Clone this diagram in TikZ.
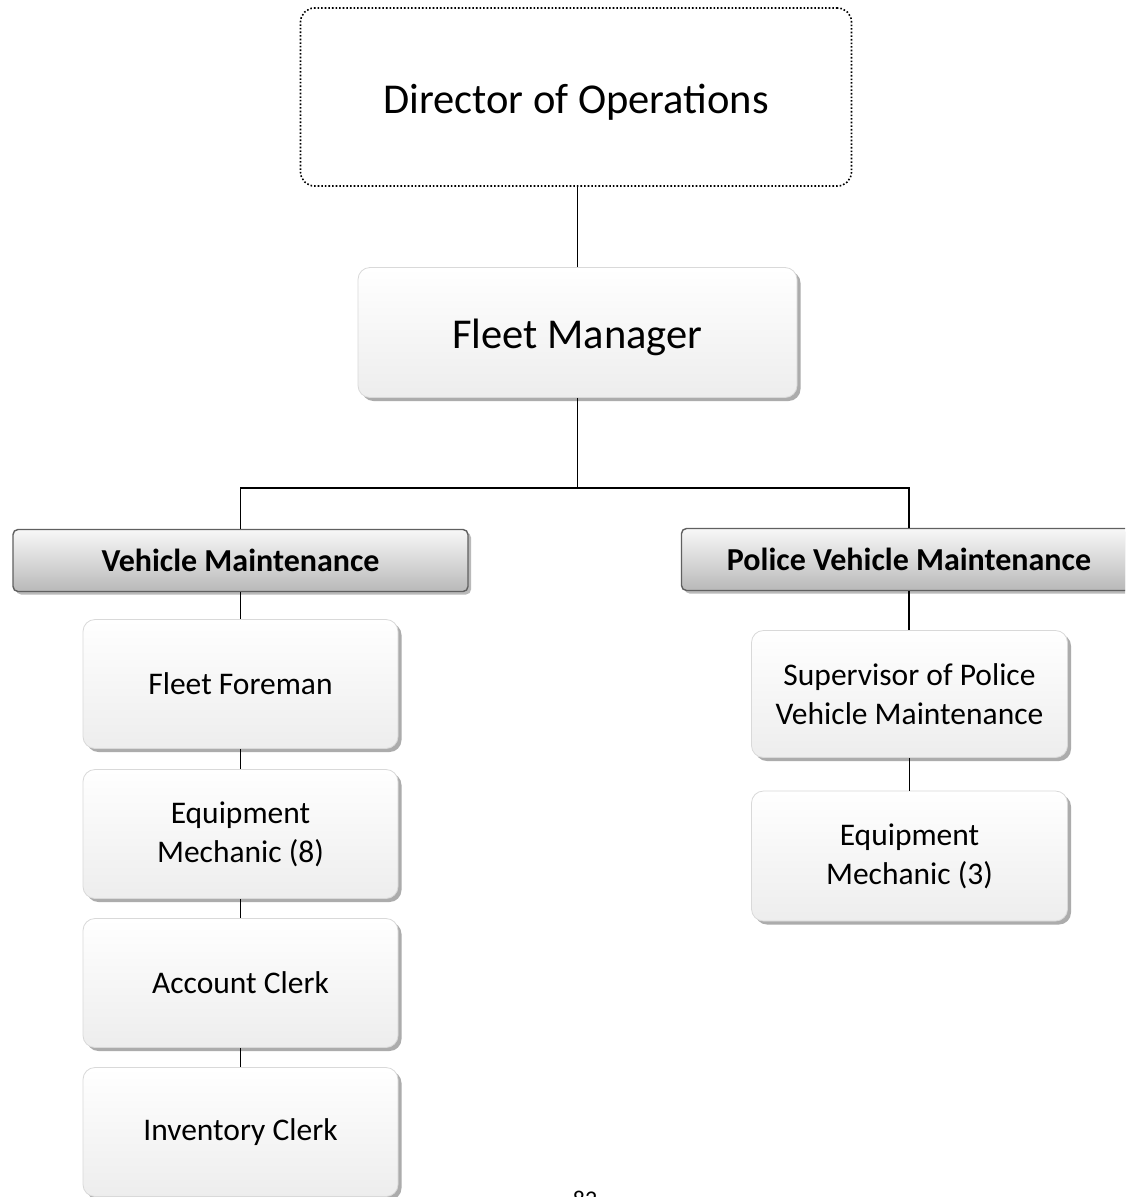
\documentclass[tikz,border=0pt]{standalone}
\usepackage{fontspec}
\setmainfont{Carlito}
\usetikzlibrary{shadows}

\newcommand{\fsz}[2]{\fontsize{#1}{#2}\selectfont}
% lower a label without changing the box size used for centring
\newcommand{\lowered}[2]{\raisebox{-#1}[\height][\depth]{#2}}

\tikzset{
  link/.style={draw=black, line width=1.3pt},
  topbox/.style={draw=black, dotted, line width=1.6pt, rounded corners=14pt,
    minimum width=551pt, minimum height=178pt, inner sep=0pt},
  card/.style={draw=gray!30, line width=0.8pt, rounded corners=12pt,
    top color=white, bottom color=gray!14, inner sep=0pt, align=center,
    drop shadow={shadow xshift=3.5pt, shadow yshift=-3.5pt, fill=gray!65, opacity=1}},
  mgrbox/.style={card, minimum width=439pt, minimum height=130pt, font=\fsz{42.5}{50}},
  rolebox/.style={card, minimum width=315pt, minimum height=129pt, font=\fsz{31.5}{39}},
  hdrbox/.style={draw=gray!75!black, line width=1.4pt, rounded corners=5pt,
    top color=gray!6, bottom color=gray!55, inner sep=0pt,
    minimum width=455pt, minimum height=62pt, font=\bfseries\fsz{32}{38},
    drop shadow={shadow xshift=3pt, shadow yshift=-3pt, fill=gray!55, opacity=1}},
}

\begin{document}
\begin{tikzpicture}[x=1pt, y=-1pt]
  \useasboundingbox (0,0) rectangle (1125,1197);
  \clip (0,0) rectangle (1125,1197);
  \fill[white] (0,0) rectangle (1125,1197);

  % top of the chart
  \node[topbox, font=\fsz{42.5}{50}] (dir) at (576,97) {\lowered{5pt}{Director of Operations}};
  \node[mgrbox] (fm) at (577.5,332.5) {\lowered{5pt}{Fleet Manager}};

  % divisions
  \node[hdrbox] (vm)  at (240.5,560.5) {Vehicle Maintenance};
  \node[hdrbox] (pvm) at (909,559.5)   {Police Vehicle Maintenance};

  % vehicle maintenance staff
  \node[rolebox] (ff) at (240.5,684)  {Fleet Foreman};
  \node[rolebox] (em8) at (240.5,834) {Equipment\\Mechanic (8)};
  \node[rolebox] (ac) at (240.5,983)  {Account Clerk};
  \node[rolebox] (ic) at (240.5,1132) {Inventory Clerk};

  % police vehicle maintenance staff
  \node[rolebox, minimum width=316pt, minimum height=127pt] (sup) at (909.5,694) {Supervisor of Police\\Vehicle Maintenance};
  \node[rolebox, minimum width=316pt, minimum height=130pt] (em3) at (909.5,856) {Equipment\\Mechanic (3)};

  % connectors
  \coordinate (split) at (577.5,488);
  \draw[link] (fm.north) -- (fm.north |- dir.south);
  \draw[link] (fm.south) -- (split);
  \draw[link] (vm.north) |- (split);
  \draw[link] (pvm.north) |- (split);
  \draw[link] (vm.south) -- (ff.north);
  \draw[link] (ff.south) -- (em8.north);
  \draw[link] (em8.south) -- (ac.north);
  \draw[link] (ac.south) -- (ic.north);
  \draw[link] (pvm.south) -- (pvm.south |- sup.north);
  \draw[link] (sup.south) -- (em3.north);

  % page number
  \node[anchor=base, font=\fsz{24}{28}] (pg) at (585,1207) {82};
\end{tikzpicture}
\end{document}
